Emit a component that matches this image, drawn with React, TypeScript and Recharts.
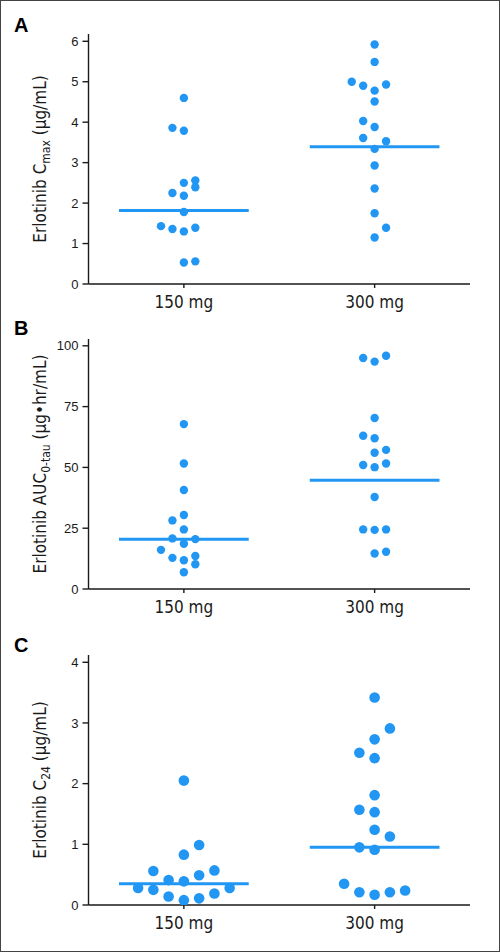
import React from 'react';
import { ScatterChart, Scatter, XAxis, YAxis, ReferenceLine } from 'recharts';

// ---------------------------------------------------------------------------
// DATA (jitter columns = swarm column of each dot)
// ---------------------------------------------------------------------------

const doses = ['150 mg', '300 mg'];

// A: Erlotinib Cmax (µg/mL)
const cmax150 = [4.6, 3.86, 3.79, 2.56, 2.5, 2.39, 2.25, 2.18, 1.78, 1.43, 1.36, 1.3, 1.39, 0.53, 0.56];
const cmax150Col = [0, -1, 0, 1, 0, 1, -1, 0, 0, -2, -1, 0, 1, 0, 1];
const cmax300 = [5.92, 5.49, 5.0, 4.9, 4.93, 4.78, 4.51, 4.03, 3.88, 3.61, 3.53, 3.34, 2.93, 2.36, 1.75, 1.39, 1.15];
const cmax300Col = [0, 0, -2, -1, 1, 0, 0, -1, 0, -1, 1, 0, 0, 0, 0, 1, 0];
const cmaxMedian = [1.82, 3.39];
const cmaxTicks = [0, 1, 2, 3, 4, 5, 6];

// B: Erlotinib AUC0-tau (µg•hr/mL)
const auc150 = [67.8, 51.6, 40.7, 30.4, 28.2, 24.5, 20.8, 20.5, 18.6, 16.1, 12.8, 11.8, 13.6, 10.2, 6.9];
const auc150Col = [0, 0, 0, 0, -1, 0, -1, 1, 0, -2, -1, 0, 1, 1, 0];
const auc300 = [95.0, 93.5, 95.9, 70.3, 63.0, 62.0, 57.2, 56.0, 51.0, 50.1, 51.6, 37.8, 24.5, 24.3, 24.5, 14.6, 15.3];
const auc300Col = [-1, 0, 1, 0, -1, 0, 1, 0, -1, 0, 1, 0, -1, 0, 1, 0, 1];
const aucMedian = [20.5, 44.7];
const aucTicks = [0, 25, 50, 75, 100];

// C: Erlotinib C24 (µg/mL)
const c24150 = [2.05, 0.99, 0.83, 0.56, 0.57, 0.49, 0.41, 0.39, 0.28, 0.25, 0.28, 0.14, 0.19, 0.11, 0.08];
const c24150Col = [0, 1, 0, -2, 2, 1, -1, 0, -3, -2, 3, -1, 2, 1, 0];
const c24300 = [3.42, 2.91, 2.73, 2.51, 2.42, 1.81, 1.57, 1.53, 1.24, 1.13, 0.95, 0.91, 0.35, 0.21, 0.17, 0.21, 0.24];
const c24300Col = [0, 1, 0, -1, 0, 0, -1, 0, 0, 1, -1, 0, -2, -1, 0, 1, 2];
const c24Median = [0.35, 0.95];
const c24Ticks = [0, 1, 2, 3, 4];

// ---------------------------------------------------------------------------
// STYLE
// ---------------------------------------------------------------------------

const BLUE = '#2196f3';
const INK = '#1a1a1a';
const NARROW = "'Liberation Sans Narrow', 'Arial Narrow', 'DejaVu Sans Condensed', sans-serif";
const SANS = "'Liberation Sans', Arial, sans-serif";

// dose groups sit at 25 and 75 on a 0-100 x scale
const CENTERS = [25, 75];
const MEDIAN_HALF = 17;

interface PanelProps {
  top: number;
  values: number[][];
  cols: number[][];
  medians: number[];
  ticks: number[];
  yMax: number;
  step: number;
  radius: number;
  title: [string, string, string];
}

const Panel = ({ top, values, cols, medians, ticks, yMax, step, radius, title }: PanelProps) => {
  const groups = values.map((vals, g) =>
    vals.map((y, i) => ({ x: CENTERS[g] + cols[g][i] * step, y }))
  );

  const renderTitle = (props: any) => {
    const vb = props?.viewBox ?? { x: 0, y: 10, width: 87, height: 250 };
    const cx = 39;
    const cy = vb.y + vb.height / 2;
    return (
      <text
        x={cx}
        y={cy}
        transform={`rotate(-90, ${cx}, ${cy})`}
        textAnchor="middle"
        dy="0.36em"
        fontFamily={NARROW}
        fontSize={17}
        fill={INK}
      >
        {title[0]}
        <tspan fontSize={12} dy={4}>{title[1]}</tspan>
        <tspan dy={-4}>{title[2]}</tspan>
      </text>
    );
  };

  return (
    <div style={{ position: 'absolute', left: 0, top }}>
      <ScatterChart width={500} height={292} margin={{ top: 10, right: 31, bottom: 0, left: 0 }}>
        <XAxis
          type="number"
          dataKey="x"
          domain={[0, 100]}
          ticks={CENTERS}
          tickFormatter={(v: number) => doses[CENTERS.indexOf(v)]}
          height={32}
          stroke={INK}
          strokeWidth={1.4}
          tickSize={4}
          tickMargin={8}
          tick={{ fill: INK, fontSize: 17, fontFamily: NARROW }}
          allowDataOverflow
        />
        <YAxis
          type="number"
          dataKey="y"
          domain={[0, yMax]}
          ticks={ticks}
          width={87.5}
          stroke={INK}
          strokeWidth={1.4}
          tickSize={6}
          tickMargin={4}
          tick={{ fill: INK, fontSize: 13, fontFamily: SANS }}
          allowDataOverflow
          label={renderTitle}
        />
        {medians.map((m, g) => (
          <ReferenceLine
            key={g}
            segment={[
              { x: CENTERS[g] - MEDIAN_HALF, y: m },
              { x: CENTERS[g] + MEDIAN_HALF, y: m },
            ]}
            stroke={BLUE}
            strokeWidth={3}
          />
        ))}
        {groups.map((pts, g) => (
          <Scatter
            key={g}
            data={pts}
            fill={BLUE}
            isAnimationActive={false}
            shape={(p: any) => <circle cx={p.cx} cy={p.cy} r={radius} fill={BLUE} />}
          />
        ))}
      </ScatterChart>
    </div>
  );
};

const letterStyle: React.CSSProperties = {
  position: 'absolute',
  left: 13,
  fontFamily: SANS,
  fontWeight: 'bold',
  fontSize: 20,
  lineHeight: 1,
  color: '#000',
};

export default function App() {
  return (
    <div
      style={{
        position: 'absolute',
        left: 0,
        top: 0,
        width: 500,
        height: 952,
        background: '#fff',
        border: '1px solid #444',
        boxSizing: 'border-box',
        overflow: 'hidden',
      }}
    >
      <div style={{ ...letterStyle, top: 14 }}>A</div>
      <div style={{ ...letterStyle, top: 317 }}>B</div>
      <div style={{ ...letterStyle, top: 634 }}>C</div>

      <Panel
        top={23}
        values={[cmax150, cmax300]}
        cols={[cmax150Col, cmax300Col]}
        medians={cmaxMedian}
        ticks={cmaxTicks}
        yMax={6.18}
        step={3}
        radius={4.2}
        title={['Erlotinib C', 'max', ' (µg/mL)']}
      />
      <Panel
        top={328}
        values={[auc150, auc300]}
        cols={[auc150Col, auc300Col]}
        medians={aucMedian}
        ticks={aucTicks}
        yMax={102.8}
        step={3}
        radius={4.2}
        title={['Erlotinib AUC', '0-tau', ' (µg•hr/mL)']}
      />
      <Panel
        top={644}
        values={[c24150, c24300]}
        cols={[c24150Col, c24300Col]}
        medians={c24Median}
        ticks={c24Ticks}
        yMax={4.12}
        step={4}
        radius={5.3}
        title={['Erlotinib C', '24', ' (µg/mL)']}
      />
    </div>
  );
}
